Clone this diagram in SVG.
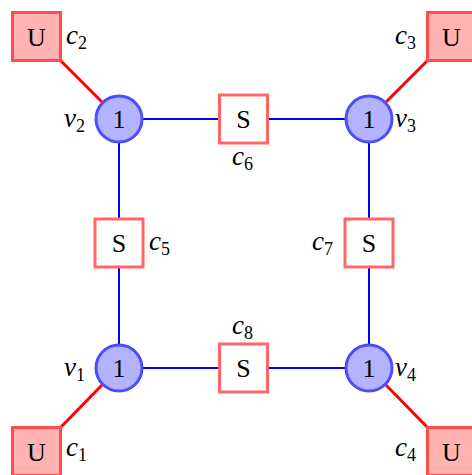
<svg xmlns="http://www.w3.org/2000/svg" width="472" height="475" viewBox="0 0 472 475">
<style>
.bl{stroke:#0000ff;stroke-width:2;fill:none}
.rd{stroke:#ff0000;stroke-width:3;fill:none}
.v{fill:#b3b3ff;stroke:#4d4dff;stroke-width:3}
.u{fill:#ffb3b3;stroke:#ff4d4d;stroke-width:3}
.s{fill:#ffffff;stroke:#ff6666;stroke-width:3}
.t{font-family:"Liberation Serif","DejaVu Serif",serif;font-size:26px;fill:#000;text-anchor:middle}
.l{font-family:"Liberation Serif","DejaVu Serif",serif;font-size:27px;font-style:italic;fill:#000}
.sub{font-style:normal;font-size:18px}
</style>
<rect width="472" height="475" fill="#fff"/>
<g id="connectors">
<line class="bl" x1="119" y1="119" x2="369" y2="119"/>
<line class="bl" x1="119" y1="368" x2="369" y2="368"/>
<line class="bl" x1="119" y1="119" x2="119" y2="368"/>
<line class="bl" x1="369" y1="119" x2="369" y2="368"/>
<line class="rd" x1="61" y1="61" x2="102" y2="102"/>
<line class="rd" x1="427" y1="61" x2="386" y2="102"/>
<line class="rd" x1="61" y1="427" x2="102" y2="385"/>
<line class="rd" x1="427" y1="427" x2="386" y2="385"/>
</g>
<g id="v2"><circle class="v" cx="119" cy="119" r="23"/><text class="t" x="119" y="128">1</text><text class="l" x="64" y="127">v<tspan class="sub" dy="5">2</tspan></text></g>
<g id="v3"><circle class="v" cx="369" cy="119" r="23"/><text class="t" x="369" y="128">1</text><text class="l" x="395" y="127">v<tspan class="sub" dy="5">3</tspan></text></g>
<g id="v1"><circle class="v" cx="119" cy="368" r="23"/><text class="t" x="119" y="377">1</text><text class="l" x="64" y="376">v<tspan class="sub" dy="5">1</tspan></text></g>
<g id="v4"><circle class="v" cx="369" cy="368" r="23"/><text class="t" x="369" y="377">1</text><text class="l" x="395" y="376">v<tspan class="sub" dy="5">4</tspan></text></g>
<g id="c2"><rect class="u" x="12.5" y="12.5" width="48" height="48"/><text class="t" x="36.5" y="46">U</text><text class="l" x="66" y="44">c<tspan class="sub" dy="5">2</tspan></text></g>
<g id="c3"><rect class="u" x="427.5" y="12.5" width="48" height="48"/><text class="t" x="451.5" y="46">U</text><text class="l" x="395" y="44">c<tspan class="sub" dy="5">3</tspan></text></g>
<g id="c1"><rect class="u" x="12.5" y="427.5" width="48" height="48"/><text class="t" x="36.5" y="461">U</text><text class="l" x="66" y="456">c<tspan class="sub" dy="5">1</tspan></text></g>
<g id="c4"><rect class="u" x="427.5" y="427.5" width="48" height="48"/><text class="t" x="451.5" y="461">U</text><text class="l" x="395" y="456">c<tspan class="sub" dy="5">4</tspan></text></g>
<g id="c6"><rect class="s" x="219.5" y="95" width="48" height="48"/><text class="t" x="243.5" y="128">S</text><text class="l" x="232" y="165">c<tspan class="sub" dy="5">6</tspan></text></g>
<g id="c8"><rect class="s" x="219.5" y="344" width="48" height="48"/><text class="t" x="243.5" y="377">S</text><text class="l" x="232" y="334">c<tspan class="sub" dy="5">8</tspan></text></g>
<g id="c5"><rect class="s" x="95" y="219" width="48" height="48"/><text class="t" x="119" y="252">S</text><text class="l" x="149" y="250">c<tspan class="sub" dy="5">5</tspan></text></g>
<g id="c7"><rect class="s" x="345" y="219" width="48" height="48"/><text class="t" x="369" y="252">S</text><text class="l" x="312" y="250">c<tspan class="sub" dy="5">7</tspan></text></g>
</svg>
